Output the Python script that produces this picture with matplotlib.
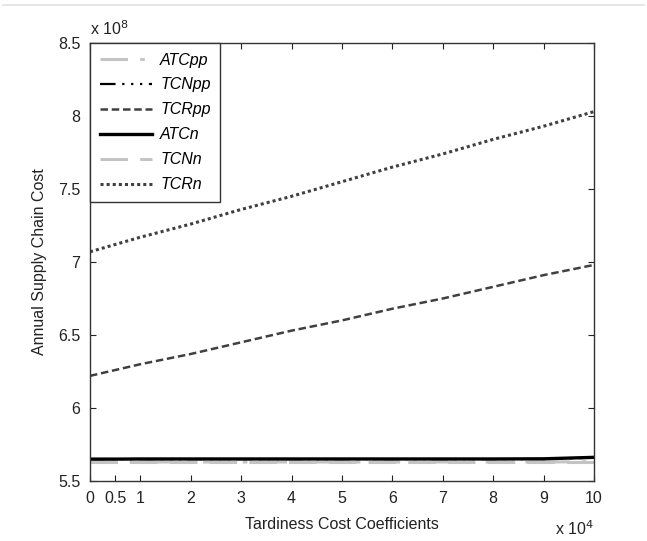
import matplotlib.pyplot as plt
from matplotlib.lines import Line2D

plt.rcParams['font.family'] = ['Liberation Sans', 'DejaVu Sans']

# tardiness cost coefficient (x 10^4)
coef = [0, 0.5, 1, 2, 3, 4, 5, 6, 7, 8, 9, 10]

# annual supply chain cost (x 10^8)
atc_pp = [5.630, 5.630, 5.630, 5.630, 5.630, 5.630, 5.630, 5.630, 5.630, 5.630, 5.630, 5.632]
tcn_pp = [5.650, 5.650, 5.650, 5.650, 5.650, 5.650, 5.650, 5.650, 5.650, 5.650, 5.650, 5.660]
tcr_pp = [6.22, 6.26, 6.30, 6.37, 6.45, 6.53, 6.60, 6.68, 6.75, 6.83, 6.91, 6.98]
atc_n = [5.650, 5.650, 5.651, 5.651, 5.651, 5.651, 5.651, 5.651, 5.651, 5.651, 5.652, 5.662]
tcn_n = [5.628, 5.628, 5.628, 5.628, 5.628, 5.628, 5.628, 5.628, 5.628, 5.628, 5.628, 5.628]
tcr_n = [7.07, 7.12, 7.17, 7.26, 7.36, 7.45, 7.55, 7.65, 7.74, 7.84, 7.93, 8.03]

x_ticks = [0, 0.5, 1, 2, 3, 4, 5, 6, 7, 8, 9, 10]
x_tick_labels = ['0', '0.5', '1', '2', '3', '4', '5', '6', '7', '8', '9', '10']
y_ticks = [5.5, 6, 6.5, 7, 7.5, 8, 8.5]
y_tick_labels = ['5.5', '6', '6.5', '7', '7.5', '8', '8.5']

fig = plt.figure(figsize=(6.47, 5.41), dpi=100)
ax = fig.add_axes([90 / 647, 1 - 481 / 541, 504 / 647, 438 / 541])

ax.plot(coef, tcn_n, color='#c4c4c4', linestyle=(0, (9, 4)), linewidth=2.2, label='TCNn')
ax.plot(coef, atc_pp, color='#c4c4c4', linestyle=(0, (9, 4, 1.5, 4)), linewidth=2.2, label='ATCpp')
ax.plot(coef, atc_n, color='black', linestyle='-', linewidth=2.4, label='ATCn')
ax.plot(coef, tcn_pp, color='black', linestyle=(0, (7, 3, 1, 3, 1, 3, 1, 3)), linewidth=1.6, label='TCNpp')
ax.plot(coef, tcr_pp, color='#404040', linestyle=(0, (3, 1.5)), linewidth=1.8, label='TCRpp')
ax.plot(coef, tcr_n, color='#404040', linestyle=(0, (1, 1)), linewidth=2.2, label='TCRn')

ax.set_xlim(0, 10)
ax.set_ylim(5.5, 8.5)
ax.set_xticks(x_ticks)
ax.set_xticklabels(x_tick_labels)
ax.set_yticks(y_ticks)
ax.set_yticklabels(y_tick_labels)
ax.tick_params(direction='in', top=True, right=True, length=4, width=0.8,
               labelsize=11.5, colors='#222222', pad=7)
for s in ax.spines.values():
    s.set_color('#333333')
    s.set_linewidth(1.0)

ax.set_xlabel('Tardiness Cost Coefficients', fontsize=11.5, color='#222222', labelpad=8)
ax.set_ylabel('Annual Supply Chain Cost', fontsize=11.5, color='#222222', labelpad=8)

ax.text(0.0, 1.012, r'x 10$^{8}$', transform=ax.transAxes, fontsize=11.5,
        color='#222222', ha='left', va='bottom')
ax.text(1.0, -0.108, r'x 10$^{4}$', transform=ax.transAxes, fontsize=11.5,
        color='#222222', ha='right', va='center')

# legend in the same order as the reference
order = ['ATCpp', 'TCNpp', 'TCRpp', 'ATCn', 'TCNn', 'TCRn']
handles, labels = ax.get_legend_handles_labels()
lookup = dict(zip(labels, handles))
leg = ax.legend([lookup[k] for k in order], order, loc='upper left',
                fancybox=False, framealpha=1, edgecolor='#333333',
                prop={'style': 'italic', 'size': 11.5}, handlelength=3.3,
                borderaxespad=0, labelspacing=0.62, borderpad=0.6,
                handletextpad=0.5)
leg.get_frame().set_linewidth(1.0)

# faint line at the top of the page
fig.add_artist(Line2D([0.005, 0.995], [1 - 5 / 541, 1 - 5 / 541],
                      color='#e2e2e2', linewidth=1.2))

fig.savefig('out.png', dpi=100)
